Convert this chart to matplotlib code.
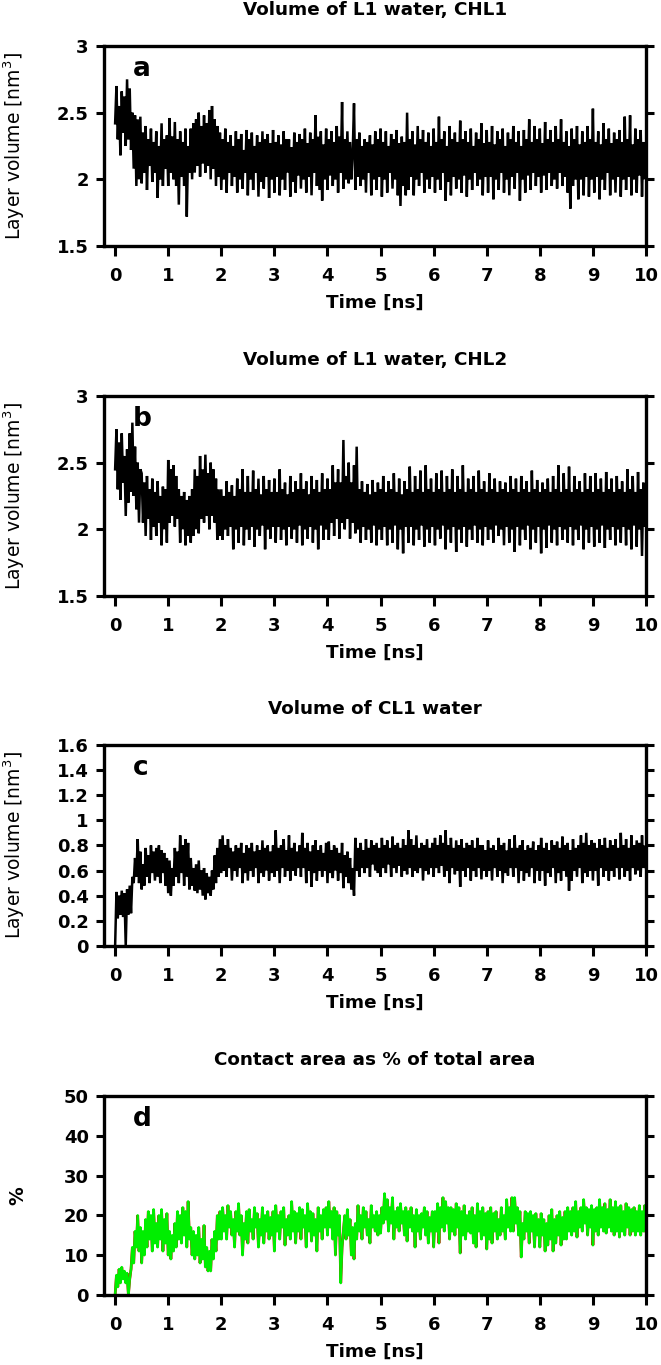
import matplotlib
matplotlib.use('Agg')
import matplotlib.pyplot as plt
import numpy as np

plt.rcParams['font.family'] = ['DejaVu Sans']
plt.rcParams['mathtext.fontset'] = 'dejavusans'

# time grid (ns), 0.025 ns sampling
time_ns = np.linspace(0, 10, 401)

# Panel a: volume of L1 water, CHL1 (nm^3)
vol_l1_chl1 = [
    2.42, 2.70, 2.30, 2.55, 2.18, 2.66, 2.35, 2.62, 2.25, 2.75, 2.30, 2.68, 2.22, 2.50, 2.08, 2.48, 1.95, 2.45, 2.00, 2.47,
    1.97, 2.35, 2.05, 2.40, 1.92, 2.30, 2.10, 2.38, 1.98, 2.28, 2.05, 2.36, 1.86, 2.25, 2.00, 2.42, 1.95, 2.30, 2.08, 2.33,
    1.95, 2.46, 2.05, 2.32, 2.00, 2.43, 1.95, 2.30, 1.81, 2.36, 2.02, 2.28, 1.95, 2.38, 1.72, 2.25, 2.05, 2.38, 2.00, 2.42,
    2.05, 2.45, 2.10, 2.50, 2.02, 2.40, 2.12, 2.48, 2.05, 2.42, 2.10, 2.52, 2.00, 2.55, 2.08, 2.45, 1.95, 2.40, 2.02, 2.35,
    1.92, 2.30, 2.00, 2.38, 1.90, 2.28, 2.05, 2.33, 1.95, 2.25, 2.02, 2.36, 1.90, 2.30, 2.00, 2.34, 1.93, 2.22, 2.05, 2.37,
    1.88, 2.30, 2.00, 2.35, 1.92, 2.25, 2.05, 2.33, 1.87, 2.28, 1.98, 2.36, 1.93, 2.30, 2.02, 2.34, 1.86, 2.27, 2.00, 2.37,
    1.90, 2.28, 2.02, 2.33, 1.88, 2.26, 2.00, 2.36, 1.92, 2.30, 2.05, 2.30, 1.87, 2.24, 1.98, 2.35, 1.90, 2.28, 2.03, 2.34,
    1.93, 2.30, 2.00, 2.38, 1.90, 2.27, 2.02, 2.35, 1.88, 2.30, 2.05, 2.48, 1.95, 2.32, 1.92, 2.36, 1.84, 2.26, 2.00, 2.38,
    1.92, 2.30, 2.03, 2.36, 1.95, 2.28, 2.00, 2.40, 1.90, 2.32, 2.05, 2.58, 1.93, 2.30, 2.00, 2.36, 1.97, 2.28, 2.00, 2.20,
    2.57, 1.92, 2.30, 2.02, 2.35, 1.95, 2.25, 2.00, 2.30, 1.90, 2.28, 2.05, 2.33, 1.88, 2.26, 2.00, 2.36, 1.92, 2.30, 2.02,
    2.38, 1.87, 2.28, 2.00, 2.36, 1.90, 2.25, 2.05, 2.34, 1.93, 2.30, 2.00, 2.37, 1.88, 2.27, 1.80, 2.32, 1.95, 2.28, 1.88,
    2.50, 1.92, 2.30, 2.02, 2.36, 1.88, 2.26, 2.00, 2.40, 1.95, 2.30, 2.05, 2.37, 1.90, 2.28, 2.00, 2.35, 1.93, 2.25, 2.02,
    2.38, 1.90, 2.28, 2.00, 2.47, 1.92, 2.30, 2.05, 2.36, 1.84, 2.25, 1.98, 2.40, 1.88, 2.30, 2.02, 2.35, 1.93, 2.28, 2.00,
    2.44, 1.90, 2.30, 2.03, 2.36, 1.87, 2.28, 2.00, 2.38, 1.92, 2.25, 2.05, 2.35, 1.95, 2.30, 2.00, 2.42, 1.88, 2.27, 2.02,
    2.37, 1.90, 2.28, 2.02, 2.40, 1.85, 2.26, 2.00, 2.36, 1.92, 2.30, 2.05, 2.38, 1.90, 2.25, 2.00, 2.35, 1.88, 2.30, 2.02,
    2.40, 1.93, 2.28, 2.05, 2.36, 1.84, 2.25, 2.00, 2.37, 1.90, 2.30, 2.03, 2.45, 1.92, 2.28, 2.05, 2.40, 1.95, 2.30, 2.02,
    2.38, 1.90, 2.27, 2.03, 2.43, 1.92, 2.30, 2.05, 2.37, 1.95, 2.28, 2.00, 2.40, 1.93, 2.30, 2.05, 2.45, 1.95, 2.28, 2.02,
    2.36, 1.90, 2.25, 1.78, 2.38, 1.95, 2.30, 2.00, 2.40, 1.85, 2.26, 2.00, 2.36, 1.88, 2.28, 2.02, 2.40, 1.87, 2.30, 2.00,
    2.53, 1.90, 2.28, 2.02, 2.36, 1.85, 2.26, 2.00, 2.42, 1.92, 2.30, 2.05, 2.38, 1.88, 2.27, 2.00, 2.35, 1.90, 2.30, 2.02,
    2.37, 1.87, 2.28, 2.00, 2.47, 1.92, 2.30, 2.02, 2.48, 1.88, 2.26, 2.00, 2.38, 1.90, 2.30, 2.03, 2.37, 1.87, 2.28, 2.00,
    2.25,
]

# Panel b: volume of L1 water, CHL2 (nm^3)
vol_l1_chl2 = [
    2.45, 2.75, 2.30, 2.65, 2.22, 2.72, 2.35, 2.55, 2.10, 2.60, 2.20, 2.72, 2.28, 2.80, 2.25, 2.62, 2.15, 2.50, 2.05, 2.45,
    2.42, 2.05, 2.35, 1.95, 2.40, 2.08, 2.30, 1.92, 2.38, 2.02, 2.28, 1.95, 2.36, 2.05, 2.25, 1.88, 2.32, 2.00, 2.30, 1.90,
    2.52, 2.05, 2.45, 2.10, 2.48, 2.02, 2.40, 2.08, 2.30, 1.90, 2.25, 2.00, 2.28, 1.88, 2.22, 1.95, 2.25, 1.90, 2.30, 1.95,
    2.45, 2.00, 2.40, 1.97, 2.55, 2.08, 2.45, 2.05, 2.56, 2.10, 2.42, 2.00, 2.50, 2.10, 2.45, 2.05, 2.38, 1.92, 2.30, 1.95,
    2.30, 1.92, 2.25, 2.00, 2.36, 1.95, 2.28, 2.02, 2.33, 1.85, 2.25, 2.00, 2.38, 1.90, 2.30, 2.02, 2.45, 1.88, 2.28, 2.00,
    2.40, 1.92, 2.28, 2.02, 2.44, 1.87, 2.30, 2.00, 2.38, 1.95, 2.26, 2.03, 2.40, 1.85, 2.30, 2.00, 2.37, 1.93, 2.28, 2.02,
    2.38, 1.90, 2.28, 2.02, 2.45, 1.92, 2.30, 2.00, 2.35, 1.88, 2.26, 2.02, 2.40, 1.93, 2.28, 2.00, 2.36, 1.90, 2.30, 2.03,
    2.42, 1.88, 2.30, 2.00, 2.36, 1.93, 2.26, 2.02, 2.40, 1.90, 2.30, 2.00, 2.37, 1.85, 2.28, 2.03, 2.42, 1.92, 2.30, 2.00,
    2.38, 1.92, 2.30, 2.05, 2.48, 1.95, 2.35, 2.08, 2.45, 1.93, 2.35, 2.05, 2.67, 2.00, 2.40, 2.08, 2.50, 1.93, 2.35, 2.05,
    2.48, 1.97, 2.62, 2.00, 2.30, 1.90, 2.36, 2.02, 2.28, 1.92, 2.34, 2.00, 2.26, 1.90, 2.37, 2.03, 2.28, 1.88, 2.35, 2.00,
    2.30, 1.92, 2.40, 2.02, 2.28, 1.88, 2.36, 2.00, 2.30, 1.90, 2.42, 2.03, 2.28, 1.85, 2.38, 2.00, 2.26, 1.82, 2.36, 2.02,
    2.30, 1.90, 2.47, 2.02, 2.28, 1.88, 2.40, 2.00, 2.30, 1.92, 2.44, 2.03, 2.28, 1.87, 2.48, 2.00, 2.30, 1.90, 2.38, 2.02,
    2.28, 1.88, 2.42, 2.00, 2.30, 1.93, 2.44, 2.03, 2.28, 1.85, 2.40, 2.00, 2.30, 1.90, 2.45, 2.02, 2.28, 1.83, 2.40, 2.00,
    2.30, 1.90, 2.48, 2.02, 2.28, 1.87, 2.38, 2.00, 2.30, 1.92, 2.40, 2.03, 2.28, 1.90, 2.44, 2.00, 2.30, 1.88, 2.36, 2.02,
    2.28, 1.92, 2.42, 2.00, 2.30, 1.90, 2.38, 2.03, 2.28, 1.95, 2.36, 2.00, 2.30, 1.88, 2.35, 2.02, 2.28, 1.90, 2.40, 2.00,
    2.30, 1.83, 2.38, 2.02, 2.28, 1.88, 2.40, 2.00, 2.30, 1.92, 2.36, 2.03, 2.28, 1.85, 2.44, 2.00, 2.30, 1.90, 2.37, 2.02,
    2.28, 1.82, 2.35, 2.00, 2.30, 1.86, 2.38, 2.03, 2.28, 1.90, 2.40, 2.00, 2.30, 1.88, 2.48, 2.02, 2.28, 1.92, 2.42, 2.00,
    2.30, 1.90, 2.47, 2.02, 2.28, 1.88, 2.40, 2.00, 2.30, 1.92, 2.36, 2.03, 2.28, 1.85, 2.42, 2.00, 2.30, 1.90, 2.40, 2.02,
    2.28, 1.87, 2.42, 2.00, 2.30, 1.90, 2.38, 2.03, 2.28, 1.86, 2.43, 2.00, 2.30, 1.92, 2.38, 2.02, 2.28, 1.88, 2.40, 2.00,
    2.30, 1.90, 2.36, 2.02, 2.28, 1.88, 2.45, 2.00, 2.30, 1.85, 2.40, 2.03, 2.28, 1.87, 2.43, 2.00, 2.30, 1.80, 2.35, 2.02,
    2.10,
]

# Panel c: volume of CL1 water (nm^3)
vol_cl1 = [
    0.00, 0.43, 0.22, 0.40, 0.25, 0.44, 0.23, 0.42, 0.00, 0.45, 0.25, 0.48, 0.26, 0.55, 0.50, 0.70, 0.55, 0.85, 0.50, 0.75,
    0.45, 0.65, 0.48, 0.78, 0.55, 0.72, 0.50, 0.80, 0.58, 0.75, 0.52, 0.78, 0.55, 0.80, 0.50, 0.76, 0.58, 0.74, 0.48, 0.70,
    0.42, 0.68, 0.40, 0.62, 0.48, 0.78, 0.55, 0.75, 0.50, 0.88, 0.58, 0.80, 0.48, 0.85, 0.55, 0.82, 0.45, 0.70, 0.48, 0.62,
    0.44, 0.65, 0.42, 0.68, 0.45, 0.60, 0.40, 0.62, 0.37, 0.58, 0.42, 0.55, 0.40, 0.60, 0.45, 0.72, 0.50, 0.78, 0.55, 0.85,
    0.58, 0.88, 0.60, 0.80, 0.55, 0.85, 0.62, 0.78, 0.52, 0.75, 0.60, 0.80, 0.55, 0.78, 0.62, 0.82, 0.50, 0.74, 0.58, 0.80,
    0.52, 0.78, 0.60, 0.82, 0.55, 0.75, 0.62, 0.80, 0.50, 0.76, 0.58, 0.84, 0.55, 0.78, 0.60, 0.80, 0.52, 0.75, 0.58, 0.80,
    0.55, 0.92, 0.60, 0.78, 0.50, 0.80, 0.62, 0.85, 0.55, 0.76, 0.60, 0.88, 0.52, 0.78, 0.60, 0.82, 0.56, 0.75, 0.62, 0.80,
    0.55, 0.90, 0.62, 0.78, 0.50, 0.82, 0.60, 0.75, 0.47, 0.80, 0.58, 0.84, 0.52, 0.76, 0.60, 0.80, 0.55, 0.74, 0.60, 0.82,
    0.50, 0.83, 0.58, 0.76, 0.54, 0.80, 0.60, 0.78, 0.52, 0.74, 0.58, 0.82, 0.46, 0.72, 0.55, 0.75, 0.50, 0.70, 0.45, 0.62,
    0.40, 0.86, 0.60, 0.78, 0.55, 0.82, 0.62, 0.76, 0.58, 0.85, 0.62, 0.78, 0.55, 0.84, 0.65, 0.80, 0.60, 0.82, 0.58, 0.78,
    0.55, 0.86, 0.62, 0.80, 0.58, 0.84, 0.65, 0.78, 0.55, 0.87, 0.62, 0.80, 0.58, 0.82, 0.64, 0.78, 0.55, 0.85, 0.60, 0.80,
    0.57, 0.92, 0.62, 0.85, 0.55, 0.80, 0.60, 0.88, 0.58, 0.78, 0.62, 0.82, 0.52, 0.80, 0.60, 0.85, 0.57, 0.78, 0.62, 0.82,
    0.55, 0.86, 0.62, 0.80, 0.58, 0.88, 0.64, 0.82, 0.55, 0.92, 0.60, 0.80, 0.50, 0.86, 0.62, 0.78, 0.57, 0.84, 0.60, 0.80,
    0.47, 0.85, 0.60, 0.78, 0.55, 0.82, 0.62, 0.80, 0.52, 0.84, 0.60, 0.78, 0.55, 0.86, 0.62, 0.80, 0.53, 0.80, 0.60, 0.76,
    0.55, 0.84, 0.60, 0.78, 0.52, 0.80, 0.62, 0.76, 0.55, 0.86, 0.60, 0.80, 0.50, 0.82, 0.58, 0.76, 0.56, 0.85, 0.62, 0.78,
    0.55, 0.88, 0.62, 0.78, 0.50, 0.80, 0.60, 0.84, 0.52, 0.76, 0.58, 0.80, 0.55, 0.78, 0.62, 0.83, 0.50, 0.76, 0.60, 0.80,
    0.52, 0.86, 0.60, 0.78, 0.48, 0.82, 0.58, 0.76, 0.55, 0.84, 0.62, 0.80, 0.50, 0.83, 0.58, 0.78, 0.52, 0.87, 0.60, 0.80,
    0.55, 0.82, 0.44, 0.76, 0.52, 0.85, 0.60, 0.78, 0.55, 0.80, 0.62, 0.88, 0.50, 0.82, 0.58, 0.90, 0.55, 0.80, 0.60, 0.84,
    0.52, 0.82, 0.60, 0.78, 0.48, 0.85, 0.62, 0.80, 0.55, 0.86, 0.60, 0.78, 0.52, 0.84, 0.60, 0.80, 0.55, 0.85, 0.62, 0.78,
    0.53, 0.90, 0.62, 0.80, 0.55, 0.85, 0.60, 0.78, 0.52, 0.88, 0.62, 0.80, 0.57, 0.84, 0.60, 0.82, 0.55, 0.88, 0.62, 0.80,
    0.62,
]

# Panel d: contact area as % of total area
contact_pct = [
    0.0, 5.0, 2.0, 6.5, 3.0, 7.0, 4.0, 6.0, 3.0, 5.5, 0.0, 4.0, 6.5, 12.0, 8.0, 16.0, 12.0, 20.0, 11.0, 17.0,
    8.0, 16.0, 10.0, 19.0, 12.0, 21.0, 14.0, 20.0, 11.0, 21.5, 13.0, 18.0, 12.0, 20.0, 14.0, 21.5, 11.0, 19.0, 13.0, 20.5,
    10.0, 16.0, 9.0, 15.0, 11.0, 18.0, 12.0, 21.0, 14.0, 20.0, 13.0, 22.0, 15.0, 21.0, 12.0, 23.5, 14.0, 17.0, 10.0, 16.0,
    9.0, 15.0, 10.0, 17.0, 8.0, 14.0, 9.0, 17.5, 7.0, 12.0, 6.0, 11.0, 6.0, 14.0, 9.0, 16.0, 11.0, 20.0, 14.0, 21.0,
    14.0, 22.0, 16.0, 20.0, 14.0, 22.5, 17.0, 21.0, 15.0, 19.0, 12.0, 21.0, 16.0, 23.0, 15.0, 20.0, 10.0, 18.0, 14.0, 21.0,
    13.0, 21.5, 16.0, 19.0, 14.0, 22.0, 17.0, 20.5, 12.0, 19.0, 15.0, 22.0, 13.0, 20.0, 16.0, 21.0, 14.0, 19.5, 15.0, 21.0,
    11.0, 22.5, 16.0, 20.0, 14.0, 21.0, 17.0, 22.0, 12.5, 19.0, 15.0, 20.0, 14.0, 23.5, 16.0, 21.0, 13.0, 20.5, 16.0, 22.0,
    14.0, 21.5, 17.0, 20.0, 12.0, 23.0, 16.0, 21.0, 13.5, 20.5, 15.0, 19.0, 11.0, 22.0, 16.0, 20.0, 14.0, 21.5, 17.0, 22.0,
    15.0, 23.5, 17.0, 21.0, 14.0, 22.0, 10.0, 21.0, 15.0, 20.0, 3.0, 12.0, 16.0, 20.0, 14.0, 21.5, 15.0, 19.0, 10.0, 17.0,
    9.0, 18.0, 14.0, 22.5, 16.0, 20.0, 14.0, 22.0, 17.0, 21.0, 15.0, 19.0, 13.0, 22.5, 17.0, 20.0, 16.0, 21.0, 15.0, 20.0,
    15.5, 22.0, 18.0, 25.5, 19.0, 24.0, 16.0, 22.0, 18.0, 24.5, 14.0, 21.0, 17.0, 22.0, 16.0, 23.0, 18.0, 21.0, 15.0, 22.0,
    13.5, 21.0, 17.0, 22.0, 16.0, 20.0, 12.0, 21.5, 16.0, 20.0, 14.0, 20.5, 17.0, 22.0, 15.0, 21.0, 13.0, 19.5, 16.0, 21.0,
    12.0, 21.0, 16.0, 23.0, 13.0, 22.0, 17.0, 24.5, 16.0, 23.5, 18.0, 22.0, 14.0, 22.0, 16.0, 21.5, 15.0, 23.0, 17.0, 22.0,
    10.5, 21.0, 15.0, 22.5, 14.0, 20.0, 16.0, 21.0, 15.5, 22.0, 13.0, 20.0, 12.0, 23.0, 16.0, 21.0, 14.0, 22.0, 15.0, 20.5,
    11.5, 21.0, 14.0, 22.0, 13.0, 20.5, 16.0, 21.0, 14.0, 19.0, 15.0, 22.0, 16.0, 20.0, 14.0, 24.0, 17.0, 22.0, 16.0, 24.5,
    16.0, 24.5, 18.0, 22.0, 15.0, 21.0, 9.5, 18.0, 14.0, 21.0, 16.0, 20.5, 13.0, 21.0, 16.0, 20.0, 12.0, 20.5, 15.0, 19.0,
    12.0, 20.5, 15.0, 19.0, 11.0, 18.0, 12.5, 20.0, 14.0, 21.5, 11.0, 19.0, 13.0, 20.0, 15.0, 21.0, 12.5, 19.5, 14.0, 21.0,
    14.0, 22.0, 16.0, 21.0, 15.0, 22.0, 16.0, 23.5, 14.5, 21.0, 17.0, 22.0, 16.0, 24.0, 18.0, 22.0, 15.0, 21.5, 17.0, 22.5,
    12.5, 21.5, 16.0, 22.0, 15.0, 24.0, 17.0, 22.0, 16.0, 23.0, 15.5, 21.5, 17.0, 24.0, 16.0, 22.0, 15.0, 23.5, 16.0, 22.0,
    14.5, 22.5, 16.0, 21.0, 15.0, 23.0, 17.0, 22.0, 15.0, 21.5, 16.0, 22.0, 15.0, 21.0, 16.0, 22.5, 15.0, 21.0, 16.0, 22.5,
    16.0,
]

titles = ['Volume of L1 water, CHL1', 'Volume of L1 water, CHL2',
          'Volume of CL1 water', 'Contact area as % of total area']
letters = ['a', 'b', 'c', 'd']
ylabels = ['Layer volume [nm$^3$]'] * 3 + ['%']
x_ticks = list(range(0, 11))
x_ticklabels = [str(v) for v in x_ticks]
y_ticks_ab = [1.5, 2, 2.5, 3]
y_ticklabels_ab = ['1.5', '2', '2.5', '3']
y_ticks_c = [0, 0.2, 0.4, 0.6, 0.8, 1.0, 1.2, 1.4, 1.6]
y_ticklabels_c = ['0', '0.2', '0.4', '0.6', '0.8', '1', '1.2', '1.4', '1.6']
y_ticks_d = [0, 10, 20, 30, 40, 50]
y_ticklabels_d = ['0', '10', '20', '30', '40', '50']

fig = plt.figure(figsize=(6.61, 13.65), dpi=100)

left, width = 0.1573, 0.820
rects = [
    [left, 0.8198, width, 0.1465],
    [left, 0.5634, width, 0.1465],
    [left, 0.3070, width, 0.1473],
    [left, 0.0513, width, 0.1458],
]
series = [vol_l1_chl1, vol_l1_chl2, vol_cl1, contact_pct]
yticks = [y_ticks_ab, y_ticks_ab, y_ticks_c, y_ticks_d]
yticklabels = [y_ticklabels_ab, y_ticklabels_ab, y_ticklabels_c, y_ticklabels_d]
ylims = [(1.5, 3), (1.5, 3), (0, 1.6), (0, 50)]

for i in range(4):
    ax = fig.add_axes(rects[i])
    if i < 3:
        ax.plot(time_ns, series[i], color='black', lw=1.8,
                solid_joinstyle='miter')
    else:
        ax.plot(time_ns, series[i], color='#dd0000', lw=2.0,
                solid_joinstyle='miter')
        ax.plot(time_ns, series[i], color='#00ee00', lw=1.8,
                solid_joinstyle='round')
    ax.set_xlim(-0.21, 10)
    ax.set_ylim(*ylims[i])
    ax.set_xticks(x_ticks)
    ax.set_xticklabels(x_ticklabels, fontweight='bold')
    ax.set_yticks(yticks[i])
    ax.set_yticklabels(yticklabels[i], fontweight='bold')
    ax.tick_params(axis='x', direction='out', length=7, width=2.2,
                   labelsize=13, pad=8, top=False)
    ax.tick_params(axis='y', direction='out', length=6, width=2.2,
                   labelsize=13, pad=5, left=True, right=True)
    for s in ax.spines.values():
        s.set_linewidth(2.4)
    ax.set_title(titles[i], fontsize=13.2, fontweight='bold', pad=22)
    ax.set_xlabel('Time [ns]', fontsize=13.2, fontweight='bold')
    ax.xaxis.set_label_coords(0.5, -0.24)
    ax.set_ylabel(ylabels[i], fontsize=13.5,
                  fontweight='bold' if i == 3 else 'normal')
    ax.yaxis.set_label_coords(-0.142, 0.5)
    ax.text(0.053, 0.85, letters[i], transform=ax.transAxes,
            fontsize=19, fontweight='bold', ha='left', va='baseline')

fig.savefig('out.png', dpi=100)
